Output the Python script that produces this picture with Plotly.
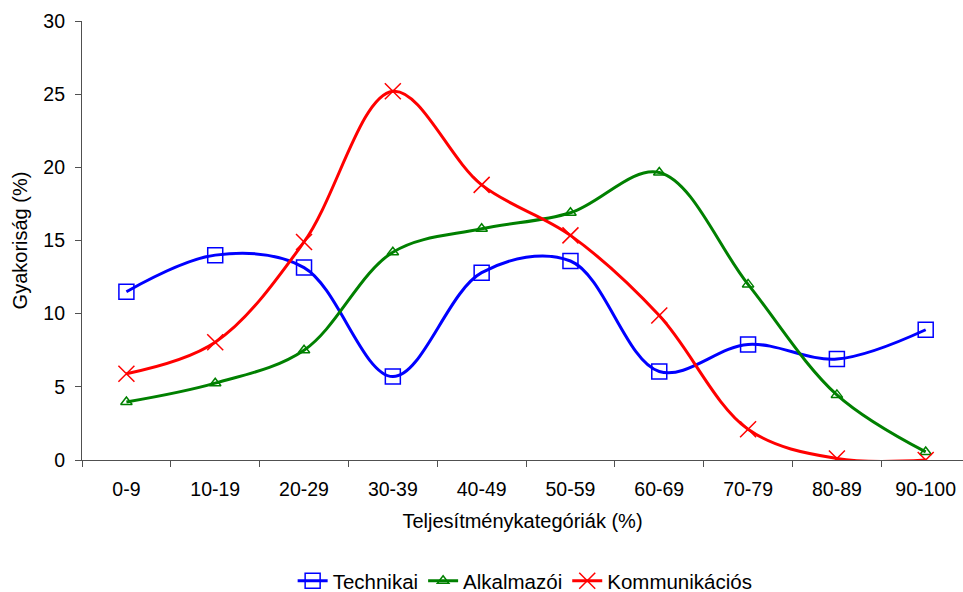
import plotly.graph_objects as go

categories = ["0-9", "10-19", "20-29", "30-39", "40-49", "50-59", "60-69", "70-79", "80-89", "90-100"]
technikai = [11.5, 14.0, 13.15, 5.7, 12.8, 13.6, 6.05, 7.9, 6.9, 8.9]
alkalmazoi = [3.96, 5.25, 7.5, 14.2, 15.8, 16.9, 19.65, 12.0, 4.45, 0.55]
kommunikacios = [5.9, 8.05, 14.9, 25.2, 18.8, 15.35, 9.87, 2.1, 0.1, 0.0]

FONT = "Liberation Sans, Arial, sans-serif"

fig = go.Figure()
fig.add_trace(go.Scatter(
    x=categories, y=technikai, name="Technikai", mode="lines+markers",
    line=dict(color="#0000FF", width=3, shape="spline", smoothing=1),
    marker=dict(symbol="square-open", size=15, color="#0000FF", line=dict(width=1.5, color="#0000FF")),
))
fig.add_trace(go.Scatter(
    x=categories, y=alkalmazoi, name="Alkalmazói", mode="lines+markers",
    line=dict(color="#008000", width=3, shape="spline", smoothing=1),
    marker=dict(symbol="triangle-up-open", size=10, color="#008000", line=dict(width=1.5, color="#008000")),
))
fig.add_trace(go.Scatter(
    x=categories, y=kommunikacios, name="Kommunikációs", mode="lines+markers",
    line=dict(color="#FF0000", width=3, shape="spline", smoothing=1),
    marker=dict(symbol="x-thin-open", size=16, color="#FF0000", line=dict(width=1.5, color="#FF0000")),
))

fig.update_layout(
    width=963, height=592,
    margin=dict(l=82, r=0, t=21, b=132),
    paper_bgcolor="white", plot_bgcolor="white",
    font=dict(family=FONT, size=19.5, color="#000000"),
    showlegend=True,
    legend=dict(orientation="h", x=0.503, xanchor="center",
                yref="container", y=11 / 592, yanchor="middle",
                font=dict(family=FONT, size=20.5), itemwidth=30, tracegroupgap=0),
    xaxis=dict(
        type="category", range=[-0.5, 9.42], automargin=False,
        showline=True, linecolor="#505050", linewidth=1.2,
        ticks="outside", ticklen=6, tickcolor="#505050", tickson="boundaries",
        showgrid=False, zeroline=False,
        ticklabelstandoff=11,
        tickfont=dict(size=19.5),
        title=dict(text="Teljesítménykategóriák (%)", standoff=15, font=dict(size=20)),
    ),
    yaxis=dict(
        range=[0, 30], dtick=5, automargin=False,
        showline=True, linecolor="#505050", linewidth=1.2,
        ticks="outside", ticklen=6, tickcolor="#505050",
        showgrid=False, zeroline=False,
        ticklabelstandoff=6,
        tickfont=dict(size=19.5),
        title=dict(text="Gyakoriság (%)", standoff=10, font=dict(size=20)),
    ),
)

fig.write_html("out.html")
